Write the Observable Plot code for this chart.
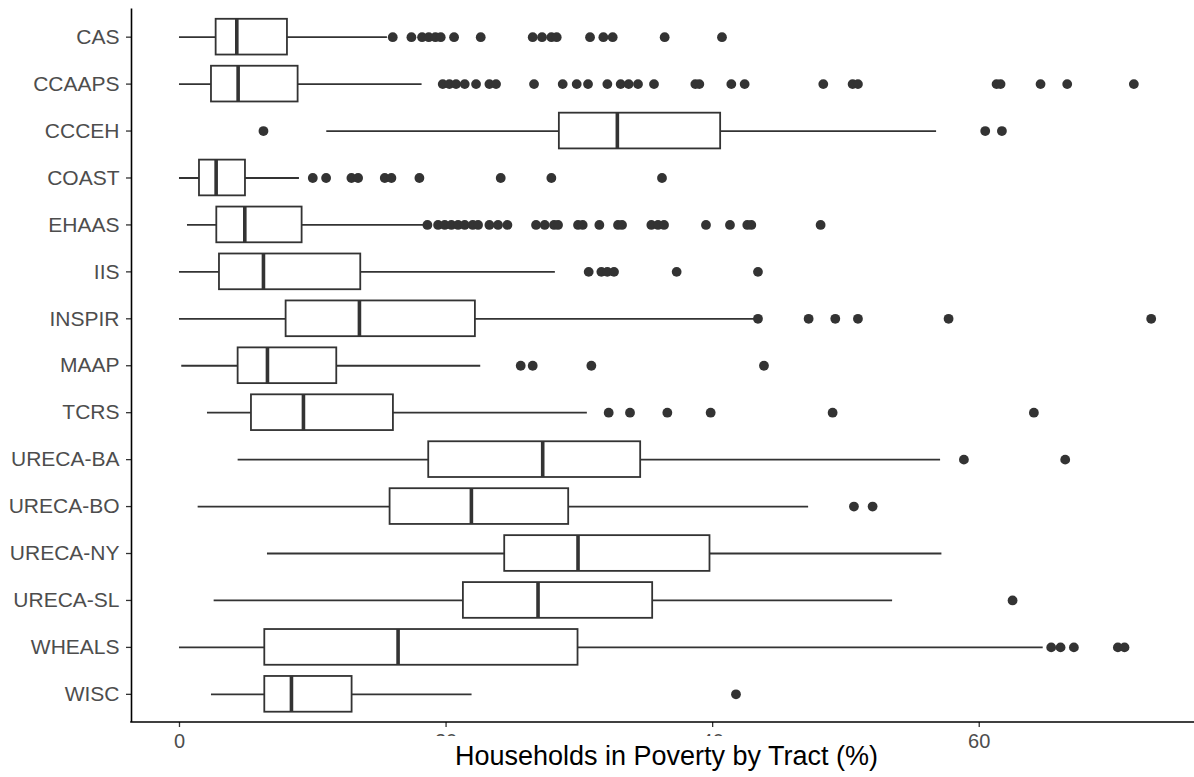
<!DOCTYPE html>
<html>
<head>
<meta charset="utf-8">
<script src="https://cdn.jsdelivr.net/npm/d3@7"></script>
<script src="https://cdn.jsdelivr.net/npm/@observablehq/plot@0.6"></script>
<style>
  body { margin: 0; background: #fff; font-family: "Liberation Sans", Arial, sans-serif; }
  #wrap { position: relative; width: 1194px; height: 777px; overflow: hidden; }
  #title {
    position: absolute; left: 416px; width: 501px; top: 736px; height: 41px;
    padding-top: 3px; box-sizing: border-box;
    background: #fff; text-align: center; font-size: 27px; line-height: 34px; color: #000;
    white-space: nowrap;
  }
</style>
</head>
<body>
<div id="wrap"><div id="chart"></div><div id="title">Households in Poverty by Tract (%)</div></div>
<script>
const studies = ["CAS","CCAAPS","CCCEH","COAST","EHAAS","IIS","INSPIR","MAAP","TCRS","URECA-BA","URECA-BO","URECA-NY","URECA-SL","WHEALS","WISC"];
const whiskerLow  = [0,    0,    11.05, 0,    0.6, 0,    0,    0.17, 2.1,   4.4,  1.4,  6.6,  2.6,  0,    2.4];
const q1          = [2.75, 2.4,  28.5,  1.5,  2.8, 3.0,  8.0,  4.4,  5.4,   18.7, 15.8, 24.4, 21.3, 6.4,  6.4];
const median      = [4.3,  4.4,  32.85, 2.75, 4.9, 6.3,  13.5, 6.6,  9.3,   27.25,21.9, 29.9, 26.9, 16.4, 8.4];
const q3          = [8.1,  8.9,  40.6,  4.95, 9.2, 13.6, 22.2, 11.8, 16.05, 34.6, 29.2, 39.8, 35.5, 29.9, 12.95];
const whiskerHigh = [15.6, 18.2, 56.8,  9.0,  18.4,28.2, 43.4, 22.6, 30.6,  57.1, 47.2, 57.2, 53.5, 64.8, 21.95];
const outliers = [
  [16.0, 17.4, 18.2, 18.7, 19.2, 19.6, 20.6, 22.6, 26.5, 27.2, 27.9, 28.3, 30.8, 31.8, 32.5, 36.4, 40.7],
  [19.75, 20.25, 20.75, 21.4, 22.25, 23.25, 23.75, 26.6, 28.75, 29.8, 30.65, 32.1, 33.1, 33.7, 34.4, 35.6, 38.7, 39.0, 41.4, 42.4, 48.3, 50.5, 50.9, 61.3, 61.6, 64.6, 66.6, 71.6],
  [6.3, 60.45, 61.7],
  [10.0, 11.0, 12.9, 13.4, 15.4, 15.9, 18.0, 24.1, 27.9, 36.2],
  [18.6, 19.4, 19.9, 20.4, 20.9, 21.4, 22.0, 22.4, 23.25, 23.9, 24.6, 26.75, 27.4, 28.1, 28.4, 29.9, 30.25, 31.5, 32.9, 33.2, 35.4, 35.9, 36.35, 39.5, 41.3, 42.6, 42.9, 48.1],
  [30.7, 31.65, 32.1, 32.6, 37.3, 43.4],
  [43.4, 47.2, 49.2, 50.9, 57.7, 72.9],
  [25.6, 26.5, 30.9, 43.85],
  [32.2, 33.8, 36.6, 39.85, 49.0, 64.1],
  [58.85, 66.45],
  [50.6, 52.0],
  [],
  [62.5],
  [65.4, 66.1, 67.1, 70.4, 70.9],
  [41.75]
];
const xTicks = [0, 20, 40, 60];
const xDomain = [-3.6, 76.15];

const boxes = studies.map((s, i) => ({study: s, lo: whiskerLow[i], q1: q1[i], med: median[i], q3: q3[i], hi: whiskerHigh[i]}));
const points = studies.flatMap((s, i) => outliers[i].map(v => ({study: s, value: v})));

const ink = "#333333";
const boxInset = 5.6;

const chart = Plot.plot({
  width: 1194,
  height: 777,
  marginLeft: 131,
  marginRight: 0,
  marginTop: 8.5,
  marginBottom: 55,
  style: {fontFamily: "'Liberation Sans', Arial, sans-serif", background: "#fff"},
  x: {domain: xDomain, label: null},
  y: {domain: studies, paddingInner: 0, paddingOuter: 0.1, round: false, label: null},
  marks: [
    Plot.ruleY(boxes, {y: "study", x1: "lo", x2: "hi", stroke: ink, strokeWidth: 1.8}),
    Plot.barX(boxes, {y: "study", x1: "q1", x2: "q3", fill: "#fff", stroke: ink, strokeWidth: 1.8, insetTop: boxInset, insetBottom: boxInset}),
    Plot.tickX(boxes, {y: "study", x: "med", stroke: ink, strokeWidth: 3.6, insetTop: boxInset, insetBottom: boxInset}),
    Plot.dot(points, {y: "study", x: "value", r: 4.9, fill: ink, stroke: null}),
    Plot.axisX({ticks: xTicks, tickSize: 5, tickPadding: 6, stroke: ink, strokeWidth: 1.3, fill: "#4d4d4d", fontSize: 20, label: null, tickFormat: d => String(d)}),
    Plot.axisY({tickSize: 5, tickPadding: 7, stroke: ink, strokeWidth: 1.3, fill: "#4d4d4d", fontSize: 21, label: null}),
    Plot.ruleX([xDomain[0]], {stroke: "#000", strokeWidth: 1.6}),
    (index, scales, values, dim) => {
      const g = document.createElementNS("http://www.w3.org/2000/svg", "line");
      const yb = dim.height - dim.marginBottom;
      g.setAttribute("x1", dim.marginLeft - 0.8);
      g.setAttribute("x2", dim.width - dim.marginRight);
      g.setAttribute("y1", yb);
      g.setAttribute("y2", yb);
      g.setAttribute("stroke", "#000");
      g.setAttribute("stroke-width", 1.6);
      return g;
    }
  ]
});
document.getElementById("chart").appendChild(chart);
</script>
</body>
</html>
